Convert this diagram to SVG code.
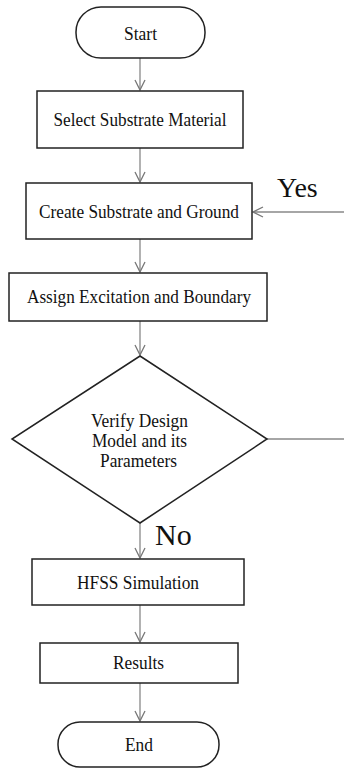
<svg xmlns="http://www.w3.org/2000/svg" width="344" height="768" viewBox="0 0 344 768">
<style>
.box{fill:#fff;stroke:#222;stroke-width:1.5}
text{font-family:'Liberation Serif','DejaVu Serif',serif;fill:#111}
.t{font-size:19px;text-anchor:middle}
.d{font-size:18px;text-anchor:middle}
.c{stroke:#888;stroke-width:1.3;fill:none}
</style>
<defs>
<marker id="ah" viewBox="0 0 12 12" refX="11" refY="6" markerWidth="12" markerHeight="12" markerUnits="userSpaceOnUse" orient="auto">
<path d="M1,1 L11,6 L1,11" fill="none" stroke="#777" stroke-width="1.3"/>
</marker>
</defs>
<g id="connectors">
<line class="c" x1="140" y1="58" x2="140" y2="90" marker-end="url(#ah)"/>
<line class="c" x1="140" y1="148" x2="140" y2="182" marker-end="url(#ah)"/>
<line class="c" x1="140" y1="239" x2="140" y2="272" marker-end="url(#ah)"/>
<line class="c" x1="140" y1="321" x2="140" y2="355" marker-end="url(#ah)"/>
<line class="c" x1="140" y1="523" x2="140" y2="558" marker-end="url(#ah)"/>
<line class="c" x1="140" y1="605" x2="140" y2="642" marker-end="url(#ah)"/>
<line class="c" x1="140" y1="683" x2="140" y2="721" marker-end="url(#ah)"/>
<line class="c" x1="267" y1="439" x2="344" y2="439"/>
<line class="c" x1="344" y1="212" x2="253" y2="212" marker-end="url(#ah)"/>
<text x="277" y="197" font-size="28">Yes</text>
<text x="155" y="545" font-size="30">No</text>
</g>
<g id="start">
<rect class="box" x="76" y="7" width="129" height="51" rx="25" ry="25"/>
<text class="t" x="140.5" y="40" textLength="33" lengthAdjust="spacingAndGlyphs">Start</text>
</g>
<g id="select">
<rect class="box" x="37" y="91" width="206" height="57"/>
<text class="t" x="140" y="126" textLength="173" lengthAdjust="spacingAndGlyphs">Select Substrate Material</text>
</g>
<g id="create">
<rect class="box" x="26" y="183" width="226" height="56"/>
<text class="t" x="139" y="218" textLength="200" lengthAdjust="spacingAndGlyphs">Create Substrate and Ground</text>
</g>
<g id="assign">
<rect class="box" x="9" y="273" width="258" height="48"/>
<text class="t" x="139" y="303" textLength="224" lengthAdjust="spacingAndGlyphs">Assign Excitation and Boundary</text>
</g>
<g id="verify">
<polygon class="box" points="140,356 267,439 140,523 12,439"/>
<text class="d" x="139.5" y="427" textLength="97" lengthAdjust="spacingAndGlyphs">Verify Design</text>
<text class="d" x="139.5" y="447" textLength="95" lengthAdjust="spacingAndGlyphs">Model and its</text>
<text class="d" x="138.5" y="467" textLength="77" lengthAdjust="spacingAndGlyphs">Parameters</text>
</g>
<g id="hfss">
<rect class="box" x="32" y="559" width="212" height="46"/>
<text class="t" x="138" y="589" textLength="122" lengthAdjust="spacingAndGlyphs">HFSS Simulation</text>
</g>
<g id="results">
<rect class="box" x="40" y="643" width="198" height="40"/>
<text class="t" x="138.5" y="669" textLength="51" lengthAdjust="spacingAndGlyphs">Results</text>
</g>
<g id="end">
<rect class="box" x="58" y="722" width="161" height="45" rx="22" ry="22"/>
<text class="t" x="139" y="751" textLength="28" lengthAdjust="spacingAndGlyphs">End</text>
</g>
</svg>
